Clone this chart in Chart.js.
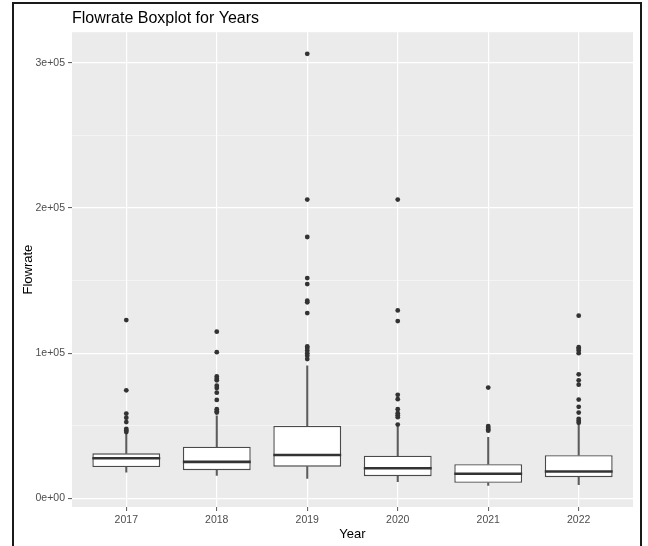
<!DOCTYPE html>
<html>
<head>
<meta charset="utf-8">
<script src="https://cdn.jsdelivr.net/npm/chart.js@4"></script>
<style>
  html, body { margin: 0; padding: 0; background: #fff; }
  #wrap { position: relative; width: 648px; height: 546px; overflow: hidden; }
  #frame { position: absolute; left: 12px; top: 2px; width: 626px; height: 600px; border: 2px solid #1a1a1a; pointer-events: none; }
  canvas { position: absolute; left: 0; top: 0; }
</style>
</head>
<body>
<div id="wrap">
  <canvas id="flow-chart" width="648" height="546"></canvas>
  <div id="frame"></div>
</div>
<script>
  'use strict';

  // values
  const years = ['2017', '2018', '2019', '2020', '2021', '2022'];
  const whiskerLow = [18000, 15800, 13800, 11500, 8900, 9400];
  const q1 = [21500, 19400, 21800, 15200, 10700, 14600];
  const median = [27600, 25100, 29900, 20700, 16900, 18500];
  const q3 = [31000, 35600, 49900, 29400, 23500, 29700];
  const whiskerHigh = [44500, 56800, 91300, 49400, 42000, 51600];
  const outliers = [
    [122800, 74400, 58400, 55500, 52500, 47900, 46800, 45700],
    [114800, 100700, 84000, 82400, 81300, 77600, 76000, 72800, 67800, 61400, 60000, 59100],
    [306200, 205800, 180000, 151700, 147600, 136100, 135000, 127600, 104600, 103500, 101800, 100000, 98200, 95900],
    [205800, 129400, 122100, 71300, 68300, 61400, 58600, 57200, 55900, 50800],
    [76300, 49800, 48600, 47500, 46600],
    [125800, 104100, 103000, 101800, 100000, 85400, 81300, 78300, 68000, 63000, 59100, 54800, 53400, 52100]
  ];
  const yTickStep = 50000;
  const yLabelStep = 100000;

  const ink = '#333333';
  const boxWidth = 0.75;

  // ggplot-like 5% expansion of the data range
  const allVals = whiskerLow.concat(whiskerHigh, ...outliers);
  const dataMin = Math.min(...allVals);
  const dataMax = Math.max(...allVals);
  const pad = (dataMax - dataMin) * 0.05;

  const sci = v => {
    const [m, e] = v.toExponential(0).split('e');
    const n = Math.abs(parseInt(e, 10));
    return m + 'e' + (e[0] === '-' ? '-' : '+') + String(n).padStart(2, '0');
  };
  const isMajor = v => Math.abs(v % yLabelStep) < 1e-6;

  const xs = years.map((_, i) => i + 1);
  const pointData = [];
  outliers.forEach((list, i) => list.forEach(v => pointData.push({ x: i + 1, y: v })));

  const halfBox = ctx => {
    const s = ctx.chart.scales.x;
    return Math.abs(s.getPixelForValue(1) - s.getPixelForValue(0)) * boxWidth / 2;
  };

  const panelBg = {
    id: 'panelBg',
    beforeDraw(chart) {
      const { ctx, chartArea: a } = chart;
      ctx.save();
      ctx.fillStyle = '#EBEBEB';
      ctx.fillRect(a.left, a.top, a.right - a.left, a.bottom - a.top);
      ctx.restore();
    }
  };

  new Chart(document.getElementById('flow-chart'), {
    type: 'bar',
    data: {
      datasets: [
        {
          label: 'lower whisker',
          data: xs.map((x, i) => ({ x: x, y: [whiskerLow[i], q1[i]] })),
          backgroundColor: '#5c5c5c',
          barThickness: 1.4,
          grouped: false,
          order: 3
        },
        {
          label: 'upper whisker',
          data: xs.map((x, i) => ({ x: x, y: [q3[i], whiskerHigh[i]] })),
          backgroundColor: '#5c5c5c',
          barThickness: 1.4,
          grouped: false,
          order: 3
        },
        {
          label: 'box',
          data: xs.map((x, i) => ({ x: x, y: [q1[i], q3[i]] })),
          backgroundColor: '#ffffff',
          borderColor: '#4a4a4a',
          borderWidth: 1.4,
          borderSkipped: false,
          categoryPercentage: 1,
          barPercentage: boxWidth,
          grouped: false,
          order: 2
        },
        {
          type: 'line',
          label: 'median',
          data: xs.map((x, i) => ({ x: x, y: median[i] })),
          showLine: false,
          pointStyle: 'line',
          pointRadius: halfBox,
          pointHoverRadius: halfBox,
          borderColor: ink,
          pointBorderWidth: 2.6,
          order: 1
        },
        {
          type: 'line',
          label: 'outliers',
          data: pointData,
          showLine: false,
          pointRadius: 2.4,
          pointBackgroundColor: ink,
          pointBorderColor: ink,
          pointBorderWidth: 0,
          order: 0
        }
      ]
    },
    options: {
      responsive: false,
      animation: false,
      layout: { padding: { left: 14, right: 15, top: 4, bottom: 0 } },
      scales: {
        x: {
          type: 'linear',
          min: 0.4,
          max: years.length + 0.6,
          offset: false,
          afterBuildTicks: s => { s.ticks = xs.map(v => ({ value: v })); },
          afterFit: s => { s.height = 39; },
          ticks: {
            callback: v => years[v - 1],
            color: '#4D4D4D',
            font: { family: 'Liberation Sans', size: 10.5 },
            padding: 3,
            maxRotation: 0
          },
          grid: {
            offset: false,
            color: '#ffffff',
            lineWidth: 1.2,
            drawTicks: true,
            tickLength: 4,
            tickColor: '#555555',
            tickWidth: 1
          },
          border: { display: false },
          title: {
            display: true,
            text: 'Year',
            color: '#000000',
            font: { family: 'Liberation Sans', size: 13 },
            padding: { top: 0, bottom: 4 }
          }
        },
        y: {
          min: dataMin - pad,
          max: dataMax + pad,
          afterBuildTicks: s => {
            const ticks = [];
            for (let v = Math.ceil(s.min / yTickStep) * yTickStep; v <= s.max; v += yTickStep) {
              ticks.push({ value: v });
            }
            s.ticks = ticks;
          },
          afterFit: s => { s.width = 58; },
          ticks: {
            callback: v => (isMajor(v) ? sci(v) : ''),
            color: '#4D4D4D',
            font: { family: 'Liberation Sans', size: 10.5 },
            padding: 3
          },
          grid: {
            color: ctx => (ctx.tick && isMajor(ctx.tick.value) ? '#ffffff' : 'rgba(255,255,255,0.8)'),
            lineWidth: ctx => (ctx.tick && isMajor(ctx.tick.value) ? 1.2 : 0.6),
            drawTicks: true,
            tickLength: 4,
            tickColor: ctx => (ctx.tick && isMajor(ctx.tick.value) ? '#555555' : 'rgba(0,0,0,0)'),
            tickWidth: 1
          },
          border: { display: false },
          title: {
            display: true,
            text: 'Flowrate',
            color: '#000000',
            font: { family: 'Liberation Sans', size: 13 },
            padding: { top: 7, bottom: 0 }
          }
        }
      },
      plugins: {
        legend: { display: false },
        tooltip: { enabled: false },
        title: {
          display: true,
          text: 'Flowrate Boxplot for Years',
          align: 'start',
          fullSize: false,
          color: '#000000',
          font: { family: 'Liberation Sans', size: 16, weight: 'normal' },
          padding: { top: 5, bottom: 4 }
        }
      }
    },
    plugins: [panelBg]
  });
</script>
</body>
</html>
